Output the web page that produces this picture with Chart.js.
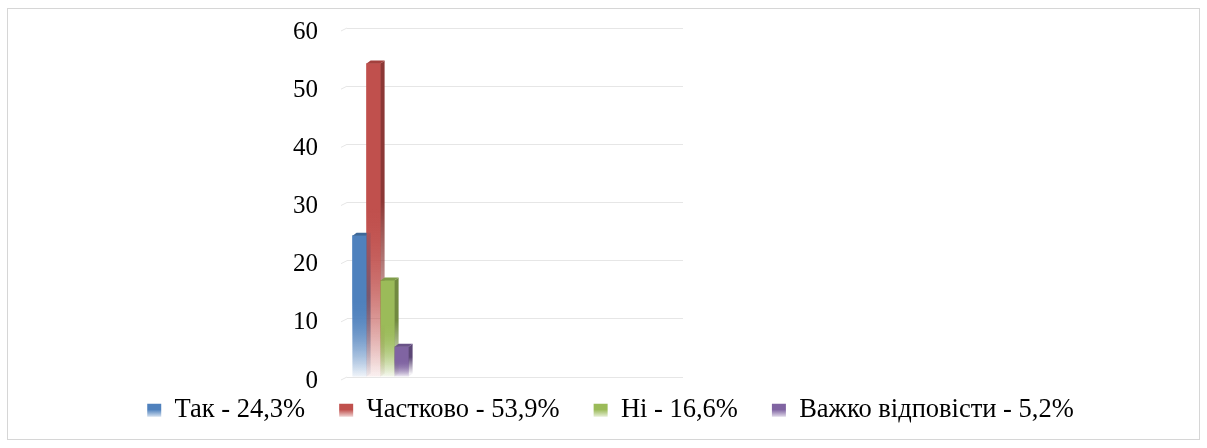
<!DOCTYPE html>
<html>
<head>
<meta charset="utf-8">
<script src="https://cdn.jsdelivr.net/npm/chart.js@4.4.0/dist/chart.umd.min.js"></script>
<style>
  html, body { margin: 0; padding: 0; background: #fff; }
  #frame { position: absolute; left: 7px; top: 8px; width: 1193px; height: 432px; box-sizing: border-box; border: 1px solid #d6d6d6; }
  #frame canvas { display: block; }
</style>
</head>
<body>
<div id="frame"><canvas id="survey"></canvas></div>
<script>
var answers = ["Так - 24,3%", "Частково - 53,9%", "Ні - 16,6%", "Важко відповісти - 5,2%"];
var shares = [24.3, 53.9, 16.6, 5.2];
var yTicks = [0, 10, 20, 30, 40, 50, 60];
var slots = ["", "", "", "", ""];

var faceColors = ["#4F81BD", "#C0504D", "#9BBB59", "#8064A2"];
var sideColors = ["#385D8A", "#8C3836", "#71893F", "#5C4776"];
var topColors = ["#3E6899", "#A3403D", "#7F9C48", "#695287"];

var DX = 4, DY = 3;       // depth of the fake 3d
var legendLift = 14;      // pull legend closer to the axis

function rgba(hex, a) {
  var n = parseInt(hex.slice(1), 16);
  return "rgba(" + (n >> 16) + "," + ((n >> 8) & 255) + "," + (n & 255) + "," + a + ")";
}

function fade(chart, hex, top, bottom, endAlpha) {
  var g = chart.ctx.createLinearGradient(0, top, 0, bottom);
  g.addColorStop(0, hex);
  g.addColorStop(0.45, hex);
  g.addColorStop(1, rgba(hex, endAlpha));
  return g;
}

var depthPlugin = {
  id: "depth",
  beforeDatasetsDraw: function (chart) {
    var ctx = chart.ctx, a = chart.chartArea, y = chart.scales.y;
    ctx.save();
    ctx.strokeStyle = "#e6e6e6";
    ctx.lineWidth = 1;
    y.ticks.forEach(function (t) {
      var py = y.getPixelForValue(t.value);
      ctx.beginPath();
      ctx.moveTo(a.left - 6, py + 3);
      ctx.lineTo(a.left, py);
      ctx.stroke();
    });
    ctx.restore();
  },
  afterDatasetsDraw: function (chart) {
    var ctx = chart.ctx;
    chart.data.datasets.forEach(function (ds, i) {
      chart.getDatasetMeta(i).data.forEach(function (bar, j) {
        if (ds.data[j] == null) return;
        var p = bar.getProps(["x", "y", "base", "width"], true);
        var l = p.x - p.width / 2, r = p.x + p.width / 2;
        ctx.save();
        // front again, so the next bar covers this one's side
        ctx.fillStyle = bar.options.backgroundColor;
        ctx.fillRect(l, p.y, p.width, p.base - p.y);
        // side
        ctx.fillStyle = fade(chart, sideColors[i], p.y - DY, p.base - DY, 0.08);
        ctx.beginPath();
        ctx.moveTo(r, p.y);
        ctx.lineTo(r + DX, p.y - DY);
        ctx.lineTo(r + DX, p.base - DY);
        ctx.lineTo(r, p.base);
        ctx.closePath();
        ctx.fill();
        // top
        ctx.fillStyle = topColors[i];
        ctx.beginPath();
        ctx.moveTo(l, p.y);
        ctx.lineTo(l + DX, p.y - DY);
        ctx.lineTo(r + DX, p.y - DY);
        ctx.lineTo(r, p.y);
        ctx.closePath();
        ctx.fill();
        ctx.restore();
      });
    });
  }
};

var liftLegend = {
  id: "liftLegend",
  afterLayout: function (chart) {
    chart.legend.top -= legendLift;
    chart.legend.bottom -= legendLift;
  }
};

var datasets = answers.map(function (name, i) {
  return {
    label: name,
    data: [shares[i]],
    borderWidth: 0,
    barThickness: 14,
    backgroundColor: function (c) {
      var chart = c.chart;
      if (!chart.chartArea || c.raw == null) return faceColors[i];
      var y = chart.scales.y;
      return fade(chart, faceColors[i], y.getPixelForValue(c.raw), y.getPixelForValue(0), 0.04);
    }
  };
});

var serif = "'Liberation Serif', 'Times New Roman', serif";

new Chart(document.getElementById("survey"), {
  type: "bar",
  data: { labels: slots, datasets: datasets },
  plugins: [depthPlugin, liftLegend],
  options: {
    responsive: true,
    maintainAspectRatio: false,
    animation: false,
    layout: { padding: { top: 19, left: 14 } },
    plugins: {
      tooltip: { enabled: false },
      legend: {
        position: "bottom",
        maxHeight: 62,
        labels: {
          color: "#000",
          font: { family: serif, size: 26.5 },
          boxWidth: 14,
          boxHeight: 13,
          padding: 34,
          generateLabels: function (chart) {
            var items = Chart.defaults.plugins.legend.labels.generateLabels(chart);
            var lg = chart.legend;
            items.forEach(function (it, i) {
              it.lineWidth = 0;
              it.strokeStyle = "rgba(0,0,0,0)";
              if (lg && isFinite(lg.top)) {
                var y0 = lg.top + 34 + (26.5 - 13) / 2;
                it.fillStyle = fade(chart, faceColors[i], y0, y0 + 13, 0.25);
              }
            });
            return items;
          }
        }
      }
    },
    scales: {
      x: { display: false },
      y: {
        min: yTicks[0],
        max: yTicks[yTicks.length - 1],
        afterBuildTicks: function (s) {
          s.ticks = yTicks.map(function (v) { return { value: v }; });
        },
        ticks: { color: "#000", font: { family: serif, size: 25 }, padding: 29, labelOffset: 4 },
        grid: { color: "#e6e6e6", drawTicks: false },
        border: { display: false },
        afterFit: function (s) {
          s.width = 325;
          s.paddingTop = 0;
          s.paddingBottom = 0;
        }
      },
      yR: {
        position: "right",
        display: true,
        ticks: { display: false },
        grid: { display: false },
        border: { display: false },
        afterFit: function (s) { s.width = 516; }
      }
    }
  }
});
</script>
</body>
</html>
